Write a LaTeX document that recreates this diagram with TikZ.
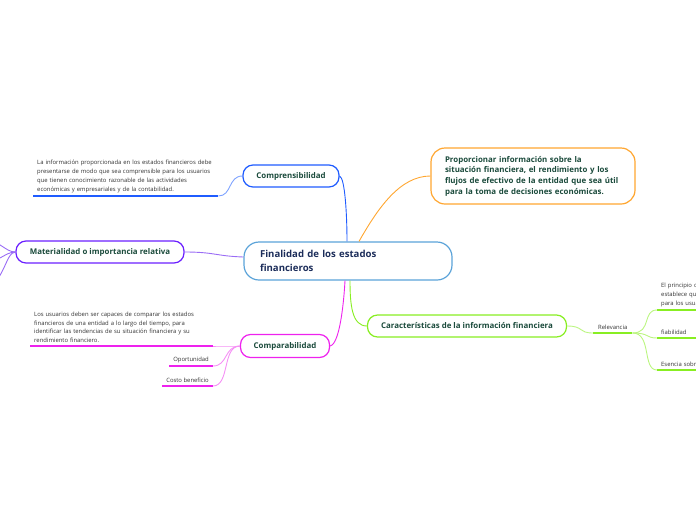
\documentclass[tikz,border=0pt]{standalone}
\usepackage{fontspec}
\setmainfont{Open Sans}
\usetikzlibrary{positioning}
\definecolor{corecol}{HTML}{5BA3D9}
\definecolor{coretext}{HTML}{1C2D5A}
\definecolor{nodetext}{HTML}{1B4B3C}
\definecolor{leaftext}{HTML}{333333}
\definecolor{comprcol}{HTML}{1F5CFF}
\definecolor{comprlite}{HTML}{7FA3FF}
\definecolor{matercol}{HTML}{6B1FFF}
\definecolor{materlite}{HTML}{9A6CF5}
\definecolor{comparcol}{HTML}{EE22EE}
\definecolor{comparlite}{HTML}{F590F5}
\definecolor{propcol}{HTML}{FFA630}
\definecolor{caraccol}{HTML}{88EE22}
\definecolor{caraclite}{HTML}{BBF580}

\begin{document}
\begin{tikzpicture}[
  x=1pt, y=-1pt,
  topic/.style={rectangle, rounded corners=10pt, draw, line width=1.2pt,
                fill=white, text=nodetext, inner sep=0pt,
                font=\fontsize{7.9}{10.7}\selectfont\bfseries},
  leaf/.style={font=\fontsize{5.9}{8.8}\selectfont, text=leaftext,
               align=left, inner xsep=4pt, inner ysep=3pt},
  under/.style={line width=1.4pt},
  link/.style={line width=0.9pt},
]
\useasboundingbox (0,0) rectangle (696,520);

% main topics
\node[topic, draw=corecol, minimum width=208pt, minimum height=38pt,
      rounded corners=15pt, text width=176pt, align=left, text=coretext,
      font=\fontsize{9.6}{13.5}\selectfont\bfseries] (core) at (348,261)
      {Finalidad de los estados\\financieros};
\node[topic, draw=comprcol, minimum width=96pt, minimum height=22pt] (compr) at (291,176) {Comprensibilidad};
\node[topic, draw=matercol, minimum width=168pt, minimum height=22pt] (mater) at (100,252) {Materialidad o importancia relativa};
\node[topic, draw=comparcol, minimum width=89pt, minimum height=23pt] (compar) at (285,346) {Comparabilidad};
\node[topic, draw=propcol, minimum width=204pt, minimum height=56pt,
      rounded corners=14pt, text width=176pt, align=left] (prop) at (533,176)
      {Proporcionar información sobre la\\situación financiera, el rendimiento y los\\flujos de efectivo de la entidad que sea útil\\para la toma de decisiones económicas.};
\node[topic, draw=caraccol, minimum width=199pt, minimum height=22pt] (carac) at (467,326) {Características de la información financiera};

% leaves
\node[leaf, text width=177pt, anchor=south west] (comprtxt) at (33,196)
  {La información proporcionada en los estados financieros debe\\presentarse de modo que sea comprensible para los usuarios\\que tienen conocimiento razonable de las actividades\\económicas y empresariales y de la contabilidad.};
\node[leaf, text width=175pt, anchor=south west] (compartxt) at (30,346)
  {Los usuarios deben ser capaces de comparar los estados\\financieros de una entidad a lo largo del tiempo, para\\identificar las tendencias de su situación financiera y su\\rendimiento financiero.};
\node[leaf, anchor=south east] (oport) at (213,366) {Oportunidad};
\node[leaf, anchor=south east] (costo) at (213,386) {Costo beneficio};
\node[leaf, anchor=south west, inner xsep=5pt] (relev) at (593,333) {Relevancia};
\node[leaf, anchor=south west, text width=60pt] (princ) at (657,310) {El principio de\\establece que\\para los usuarios};
\node[leaf, anchor=south west, text width=40pt] (fiab) at (657,338) {fiabilidad};
\node[leaf, anchor=south west, text width=60pt] (esenc) at (657,370) {Esencia sobre forma};

\coordinate (offa) at (-20,238);
\coordinate (offb) at (-20,264);
\coordinate (offc) at (-20,292);

% underlines
\foreach \n/\c in {comprtxt/comprcol, compartxt/comparcol, oport/comparcol,
                   costo/comparcol, relev/caraccol, princ/caraccol,
                   fiab/caraccol, esenc/caraccol}
  \draw[under, \c] (\n.south west) -- (\n.south east);

% connectors
\draw[link, comprcol] (compr.east) .. controls (345,178) and (347,215) .. ([xshift=-1pt]core.north);
\draw[link, propcol] ([xshift=11pt]core.north) .. controls (378,208) and (400,176) .. (prop.west);
\draw[link, materlite] (mater.east) .. controls (215,252) and (215,256) .. ([yshift=4pt]core.west);
\draw[link, comparcol] (compar.east) .. controls (340,344) and (344,300) .. ([xshift=-3pt]core.south);
\draw[link, caraccol] ([xshift=2pt]core.south) .. controls (350,305) and (352,326) .. (carac.west);

\draw[link, comprlite] (comprtxt.south east) .. controls (232,196) and (228,176) .. (compr.west);
\draw[link, materlite] (mater.west) .. controls (5,252) and (0,240) .. (offa);
\draw[link, materlite] (mater.west) .. controls (5,252) and (0,262) .. (offb);
\draw[link, materlite] (mater.west) .. controls (5,252) and (5,285) .. (offc);
\draw[link, comparlite] (compartxt.south east) .. controls (226,346) and (228,346) .. (compar.west);
\draw[link, comparlite] (oport.south east) .. controls (228,366) and (224,346) .. (compar.west);
\draw[link, comparlite] (costo.south east) .. controls (230,386) and (222,346) .. (compar.west);
\draw[link, caraclite] (carac.east) .. controls (584,326) and (578,333) .. (relev.south west);
\draw[link, caraclite] (relev.south east) .. controls (652,333) and (642,310) .. (princ.south west);
\draw[link, caraclite] (relev.south east) .. controls (650,333) and (645,338) .. (fiab.south west);
\draw[link, caraclite] (relev.south east) .. controls (652,333) and (642,370) .. (esenc.south west);
\end{tikzpicture}
\end{document}
